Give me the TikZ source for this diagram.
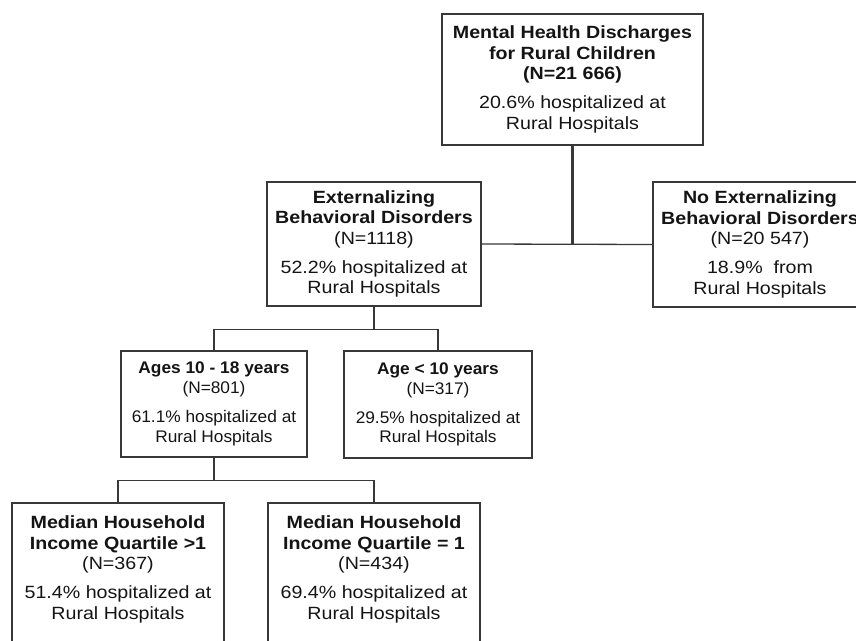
\documentclass[tikz,border=0pt]{standalone}
\usepackage{fontspec}
\setmainfont{Liberation Sans}[FakeStretch=1.11]
\newfontfamily\narrowsans{Liberation Sans}[FakeStretch=1.03]
\usepackage{tikz}
\definecolor{linegray}{HTML}{383838}

\begin{document}
\begin{tikzpicture}[x=1pt, y=-1pt,
        box/.style={draw=linegray, line width=1.5pt, align=center, inner sep=0pt, text=black!92, font=\fontsize{17.7}{20.5}\selectfont},
        smallbox/.style={box, font=\narrowsans\fontsize{16.8}{19.7}\selectfont},
        link/.style={draw=linegray, line width=1.3pt},
        trunk/.style={draw=linegray, line width=2.2pt}]
    \useasboundingbox (0, 0) rectangle (856, 640);
    \clip (0, 0) rectangle (856, 640);
    \node[box, minimum width=261pt, minimum height=131pt] (root) at (572.5, 79.5) {\textbf{Mental Health Discharges}\\ \textbf{for Rural Children}\\ \textbf{(N=21 666)}\\[8.5pt] 20.6\% hospitalized at\\ Rural Hospitals};
    \node[box, minimum width=214pt, minimum height=124pt] (ext) at (374, 244) {\textbf{Externalizing}\\ \textbf{Behavioral Disorders}\\ (N=1118)\\[8.5pt] 52.2\% hospitalized at\\ Rural Hospitals};
    \node[box, minimum width=214pt, minimum height=125pt] (noext) at (760, 244.5) {\textbf{No Externalizing}\\ \textbf{Behavioral Disorders}\\ (N=20 547)\\[8.5pt] 18.9\%~ from\\ Rural Hospitals};
    \node[smallbox, minimum width=186pt, minimum height=106pt] (ages) at (214, 404) {\textbf{Ages 10 - 18 years}\\ (N=801)\\[9.5pt] 61.1\% hospitalized at\\ Rural Hospitals};
    \node[smallbox, minimum width=188pt, minimum height=107pt] (age10) at (438, 404.5) {\textbf{Age < 10 years}\\ (N=317)\\[9.5pt] 29.5\% hospitalized at\\ Rural Hospitals};
    \node[box, minimum width=212pt, minimum height=150pt] (med1) at (118, 578) {\textbf{Median Household}\\ \textbf{Income Quartile >1}\\ (N=367)\\[8.5pt] 51.4\% hospitalized at\\ Rural Hospitals\\ ~};
    \node[box, minimum width=212pt, minimum height=150pt] (med2) at (374, 578) {\textbf{Median Household}\\ \textbf{Income Quartile = 1}\\ (N=434)\\[8.5pt] 69.4\% hospitalized at\\ Rural Hospitals\\ ~};
    \draw[trunk] (root.south) -- (root.south |- ext.east);
    \draw[link] (ext.east) -- (noext.west);
    \draw[trunk] (ext.south) -- ++(0, 23) coordinate (split1);
    \draw[link] (ages.north) |- (split1) -| (age10.north);
    \draw[trunk] (ages.south) -- ++(0, 23) coordinate (split2);
    \draw[link] (med1.north) |- (split2) -| (med2.north);
\end{tikzpicture}
\end{document}
